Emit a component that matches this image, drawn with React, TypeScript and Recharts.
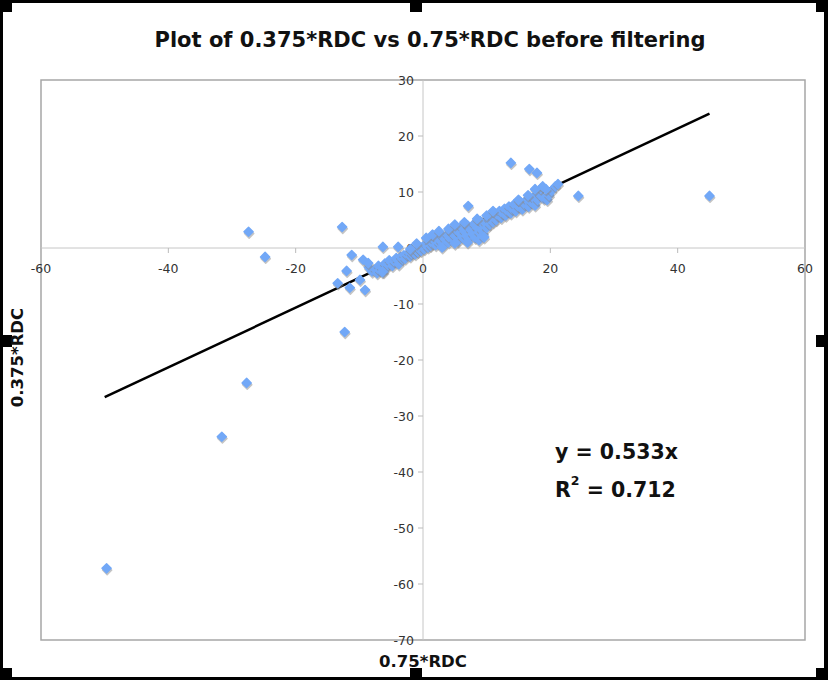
import React from 'react';
import {
  ScatterChart,
  Scatter,
  XAxis,
  YAxis,
  ReferenceLine,
  ReferenceDot,
  ReferenceArea,
} from 'recharts';

const xTicks = [-60, -40, -20, 0, 20, 40, 60];
const yTicks = [30, 20, 10, 0, -10, -20, -30, -40, -50, -60, -70];
const slope = 0.533;
const rSquared = 0.712;
const trendXRange = [-50, 45];

const outlierPoints: [number, number][] = [
  [45, 9.3], [24.4, 9.3], [13.8, 15.2], [16.7, 14.1], [17.9, 13.4], [7.1, 7.5],
  [-12.7, 3.75], [-27.4, 2.9], [-24.8, -1.6], [-12.3, -15], [-11.2, -1.25],
  [-12, -4.1], [-13.4, -6.3], [-11.5, -7.1], [-9.1, -7.5], [-9.4, -2.1],
  [-8.6, -2.7], [-6.3, 0.2], [-3.9, 0.2], [-9.9, -5.7], [-6.4, -4.3],
  [-27.7, -24.1], [-31.6, -33.7], [-49.7, -57.2],
];

const bandPoints: [number, number][] = [
  [-8.5, -3.5], [-8, -4.2], [-7.5, -3.8], [-7.2, -4.5], [-7, -3.2], [-6.8, -4],
  [-6.5, -3.5], [-6.2, -4.3], [-6, -2.8], [-5.8, -3.6], [-5.5, -3], [-5.3, -2.2],
  [-5, -2.6], [-4.8, -3.2], [-4.5, -2.4], [-4.2, -1.8], [-4, -2.2], [-3.8, -2.9],
  [-3.5, -1.6], [-3.2, -2], [-3, -1.3], [-2.8, -1.9], [-2.5, -1.2], [-2.2, -0.8],
  [-2, -1.5], [-1.8, -1], [-1.5, -0.6], [-1.2, -1.1], [-1, -0.4], [-0.8, -0.7],
  [-0.5, -0.2], [-0.3, -0.5], [0, 0.3], [0.2, -0.2], [0.5, 0.6], [0.8, 0.1],
  [1, 1], [1.2, 0.4], [1.5, 0.8], [1.8, 1.3], [2, 0.5], [2.3, 1.6], [2.5, 0.9],
  [2.8, 1.2], [3, 2.2], [3.2, 0.6], [3.5, 1.5], [3.8, 2.4], [4, 1], [4.2, 1.8],
  [4.5, 2.8], [4.8, 1.4], [5, 2.2], [5.2, 3.3], [5.5, 1.2], [5.8, 2.6], [6, 3.8],
  [6.2, 1.9], [6.5, 3], [6.8, 2.2], [7, 4], [7.2, 1.6], [7.5, 3.2], [7.8, 2.5],
  [8, 4.3], [8.2, 1.8], [8.5, 3.6], [8.8, 2.8], [9, 4.8], [9.2, 3.2], [9.5, 2.4],
  [9.8, 4.5], [10, 3.6], [10.3, 5.2], [10.5, 4.2], [10.8, 5.6], [11, 4.6],
  [11.3, 6.2], [11.5, 5], [11.8, 5.8], [12, 6.6], [12.3, 5.4], [12.5, 6.2],
  [12.8, 7], [13, 5.8], [13.3, 6.6], [13.5, 7.4], [13.8, 6.2], [14, 7], [14.3, 7.8],
  [14.6, 6.6], [15, 7.4], [15.3, 8.2], [15.6, 6.9], [16, 7.8], [16.3, 8.6],
  [16.6, 7.4], [17, 8.2], [17.3, 9], [17.6, 7.6], [18, 8.6], [18.3, 9.6],
  [18.5, 10.6], [18.8, 11], [19, 8.8], [19.5, 8.6], [19.8, 9.4], [20.2, 10.2],
  [20.8, 11], [21.2, 11.4], [19.3, 10.5], [17.6, 10.5],
  [1.5, 2.4], [2.5, 3.0], [4, 3.4], [5, 4.2], [6.5, 4.6], [8.5, 5.2], [10, 5.8],
  [11, 6.6], [0.5, 1.8], [-1, 0.8], [-2, -0.2], [3, 0.1], [5, 0.8], [7, 1.0],
  [8.8, 1.4], [9.6, 1.9], [16.5, 9.4], [15, 8.6],
];

const scatterData = [...bandPoints, ...outlierPoints].map(([x, y]) => ({ x, y }));

const diamondPath = (cx: number, cy: number, r: number) =>
  `M${cx},${cy - r} L${cx + r},${cy} L${cx},${cy + r} L${cx - r},${cy} Z`;

const Marker = (props: any) => {
  const { cx, cy } = props;
  if (cx == null || cy == null) return <g />;
  return (
    <g>
      <path d={diamondPath(cx + 0.6, cy + 1.8, 4.6)} fill="#8a8a8a" stroke="#8a8a8a" strokeWidth={1.4} strokeLinejoin="round" opacity={0.5} />
      <path d={diamondPath(cx, cy, 4.6)} fill="#72a8f7" stroke="#72a8f7" strokeWidth={1.4} strokeLinejoin="round" />
    </g>
  );
};

const tickFont = { fontFamily: 'DejaVu Sans, Verdana, sans-serif', fontSize: 12.5, fill: '#333' };

const XTick = (label: number) => (props: any) => {
  const { cx, cy } = props;
  return (
    <g>
      <line x1={cx} x2={cx} y1={cy} y2={cy + 5} stroke="#bbb" />
      <text x={cx} y={cy + 25} textAnchor="middle" {...tickFont}>{label}</text>
    </g>
  );
};

const YTick = (label: number) => (props: any) => {
  const { cx, cy } = props;
  return (
    <g>
      <line x1={cx - 5} x2={cx} y1={cy} y2={cy} stroke="#bbb" />
      <text x={cx - 9} y={cy + 4.5} textAnchor="end" {...tickFont}>{label}</text>
    </g>
  );
};

const handleStyle = (left: number, top: number): React.CSSProperties => ({
  position: 'absolute', left, top, width: 12, height: 12, background: '#000',
});

const labelFont = 'DejaVu Sans, Verdana, sans-serif';

export default function App() {
  const trendSegment = trendXRange.map((x) => ({ x, y: slope * x }));
  return (
    <div style={{ position: 'absolute', left: 0, top: 0, width: 828, height: 680, background: '#000', overflow: 'hidden' }}>
      <div style={{ position: 'absolute', left: 3, top: 3, width: 821, height: 674, background: '#fff' }} />
      {[
        [0, 0], [410, 0], [816, 0], [0, 335], [816, 335], [0, 668], [410, 668], [816, 668],
      ].map(([l, t], i) => (
        <div key={i} style={handleStyle(l, t)} />
      ))}
      <div style={{ position: 'absolute', left: 0, top: 0 }}>
        <ScatterChart width={828} height={680} margin={{ left: 41, right: 23, top: 80, bottom: 40 }}>
          <XAxis type="number" dataKey="x" domain={[-60, 60]} ticks={xTicks} hide />
          <YAxis type="number" dataKey="y" domain={[-70, 30]} ticks={yTicks} hide />
          <ReferenceArea x1={-60} x2={60} y1={-70} y2={30} fill="none" stroke="#a6a6a6" strokeWidth={1.5} />
          <ReferenceLine x={0} stroke="#c6c6c6" />
          <ReferenceLine y={0} stroke="#c6c6c6" />
          {xTicks.map((v) => (
            <ReferenceDot key={'x' + v} x={v} y={0} shape={XTick(v)} />
          ))}
          {yTicks.map((v) => (
            <ReferenceDot key={'y' + v} x={0} y={v} shape={YTick(v)} />
          ))}
          <Scatter data={scatterData} shape={Marker} isAnimationActive={false} />
          <ReferenceLine segment={trendSegment} stroke="#000" strokeWidth={2.5} />
        </ScatterChart>
      </div>
      <div style={{ position: 'absolute', left: 0, width: 860, top: 28, textAlign: 'center', fontFamily: labelFont, fontWeight: 'bold', fontSize: 21, color: '#111' }}>
        Plot of 0.375*RDC vs 0.75*RDC before filtering
      </div>
      <div style={{ position: 'absolute', left: 323, width: 200, top: 652, textAlign: 'center', fontFamily: labelFont, fontWeight: 'bold', fontSize: 16.5, color: '#111' }}>
        0.75*RDC
      </div>
      <div style={{ position: 'absolute', left: -83, width: 200, top: 348, textAlign: 'center', transform: 'rotate(-90deg)', fontFamily: labelFont, fontWeight: 'bold', fontSize: 16.5, color: '#111' }}>
        0.375*RDC
      </div>
      <div style={{ position: 'absolute', left: 555, top: 433, fontFamily: labelFont, fontWeight: 'bold', fontSize: 20.5, color: '#111', lineHeight: '38px' }}>
        <div>y = {slope}x</div>
        <div>R<sup style={{ fontSize: 12.5, verticalAlign: 'top', lineHeight: '20px' }}>2</sup> = {rSquared}</div>
      </div>
    </div>
  );
}
